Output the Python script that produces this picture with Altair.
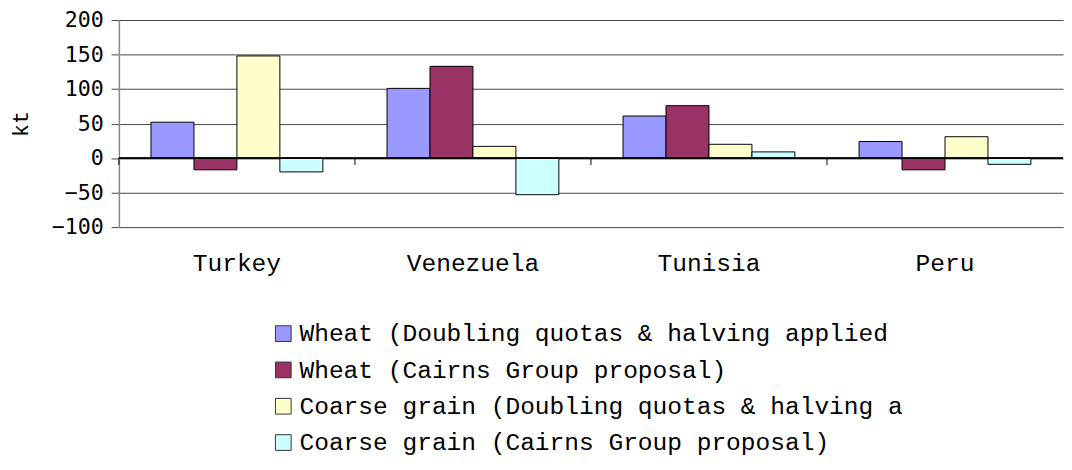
import altair as alt
import pandas as pd

countries = ["Turkey", "Venezuela", "Tunisia", "Peru"]
series = [
    "Wheat (Doubling quotas & halving applied",
    "Wheat (Cairns Group proposal)",
    "Coarse grain (Doubling quotas & halving a",
    "Coarse grain (Cairns Group proposal)",
]
colors = ["#9999FF", "#993366", "#FFFFCC", "#CCFFFF"]

wheat_doubling = [52, 101, 61, 24]
wheat_cairns = [-17, 133, 76, -17]
coarse_doubling = [148, 17, 20, 31]
coarse_cairns = [-20, -53, 9, -9]
y_ticks = [-100, -50, 0, 50, 100, 150, 200]

values = [wheat_doubling, wheat_cairns, coarse_doubling, coarse_cairns]
rows = []
for s, vals in zip(series, values):
    for c, v in zip(countries, vals):
        rows.append({"country": c, "series": s, "value": v})
df = pd.DataFrame(rows)
cdf = pd.DataFrame({"country": countries})

yscale = alt.Scale(domain=[-100, 200], nice=False, zero=False)


def y_axis():
    return alt.Axis(title="kt", values=y_ticks, tickCount=7,
                    labelOverlap=False,
                    grid=True, gridColor="#444", gridWidth=1,
                    domainColor="#888", domainWidth=1.5,
                    tickColor="#444", tickSize=8,
                    labelFont="DejaVu Sans Mono", labelFontSize=22,
                    labelColor="black", labelPadding=8,
                    titleFont="Liberation Mono", titleFontSize=22,
                    titleFontWeight="normal", titleColor="black",
                    titlePadding=19)


bars = alt.Chart(df).mark_bar(stroke="black", strokeWidth=1).encode(
    x=alt.X("country:N", sort=countries,
            scale=alt.Scale(paddingInner=0.272, paddingOuter=0.136),
            axis=alt.Axis(title=None, domain=False, ticks=False, labelAngle=0,
                          labelFont="Liberation Mono", labelFontSize=25,
                          labelColor="black", labelPadding=24)),
    xOffset=alt.XOffset("series:N", sort=series),
    y=alt.Y("value:Q", scale=yscale, axis=y_axis()),
    color=alt.Color("series:N", sort=series,
                    scale=alt.Scale(domain=series, range=colors),
                    legend=alt.Legend(title=None, orient="none",
                                      legendX=155, legendY=307,
                                      labelFont="Liberation Mono", labelFontSize=25,
                                      labelColor="black", labelLimit=700,
                                      symbolType="square", symbolSize=256,
                                      symbolStrokeColor="#333", symbolStrokeWidth=1,
                                      symbolOpacity=1,
                                      rowPadding=11, labelOffset=4, padding=0)),
)

zero = alt.Chart(cdf).mark_rule(color="black", strokeWidth=1).encode(
    y=alt.YDatum(0, scale=yscale, axis=y_axis())
)

ticks = alt.Chart(cdf).mark_rule(color="black", strokeWidth=1).encode(
    x=alt.X("country:N", sort=countries, bandPosition=0,
            scale=alt.Scale(paddingInner=0, paddingOuter=0), axis=None),
    y=alt.YDatum(0, scale=yscale, axis=y_axis()),
    y2=alt.Y2Datum(-10),
)

chart = alt.layer(bars, zero, ticks).resolve_scale(x="independent").properties(
    width=962, height=211,
    padding={"top": -3, "left": 2, "right": 0, "bottom": 0},
).configure_view(stroke=None)

chart.save("out.html", embed_options={"renderer": "svg", "actions": False})
